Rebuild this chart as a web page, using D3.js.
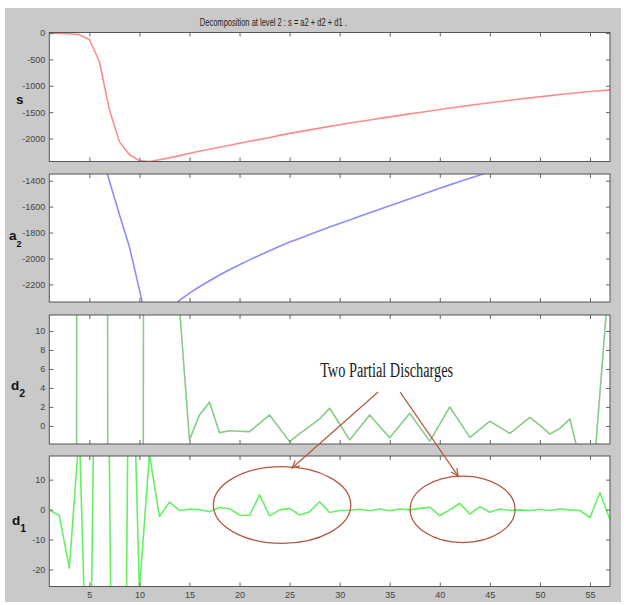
<!DOCTYPE html>
<html><head><meta charset="utf-8">
<script src="https://cdn.jsdelivr.net/npm/d3@7"></script>
<style>body{margin:0;background:#fff}svg{display:block}</style>
</head><body><svg id="c" width="628" height="605"></svg>
<script>
const title = "Decomposition at level 2 : s = a2 + d2 + d1 .";
const xValues = [1,2,3,4,5,6,7,8,9,10,11,12,13,14,15,16,17,18,19,20,21,22,23,24,25,26,27,28,29,30,31,32,33,34,35,36,37,38,39,40,41,42,43,44,45,46,47,48,49,50,51,52,53,54,55,56,57];
const sValues = [0,-6,-14,-30,-120,-540,-1450,-2060,-2310,-2420,-2437,-2405,-2368,-2325,-2281,-2243,-2205,-2167,-2129,-2091,-2054,-2017,-1980,-1941,-1903,-1870,-1837,-1803,-1770,-1738,-1707,-1677,-1648,-1619,-1590,-1562,-1534,-1506,-1478,-1450,-1423,-1397,-1372,-1347,-1322,-1298,-1275,-1252,-1230,-1208,-1187,-1166,-1146,-1127,-1109,-1093,-1078];
const a2Values = [-20,-60,-200,-480,-820,-1150,-1400,-1660,-1910,-2240,-2600,-2520,-2400,-2323,-2268,-2218,-2172,-2128,-2087,-2048,-2011,-1975,-1940,-1906,-1873,-1845,-1815,-1786,-1758,-1730,-1703,-1675,-1648,-1620,-1593,-1566,-1539,-1512,-1485,-1458,-1432,-1406,-1380,-1355,-1330,-1306,-1283,-1260,-1238,-1216,-1195,-1174,-1154,-1135,-1117,-1100,-1084];
const d2Values = [-40,-150,-800,300,900,1000,-200,-800,-600,-350,550,700,300,12.5,-1.47,1.16,2.5,-0.7,-0.5,-0.55,-0.6,0.28,1.16,-0.25,-1.65,-0.8,-0.05,0.75,1.86,0.2,-1.47,-0.15,1.16,-0.05,-1.23,0.05,1.33,-0.15,-1.6,0.2,2.0,0.4,-1.2,-0.35,0.5,-0.15,-0.77,0.05,0.9,0.05,-0.85,-0.25,0.74,-3.66,-10.05,3.53,17.1];
const d1Values = [-0.1,-2,-19.5,26,-88,180,16,-330,95,-27,18.5,-2.3,2.5,-0.3,0.1,0,-0.7,0.7,0.3,-1.8,-2.0,4.9,-2.1,-0.1,0.4,-1.8,-0.7,2.6,-1.0,-0.3,-0.2,0.1,-0.4,0.2,-0.4,0.2,-0.1,0.4,0.8,-2.0,-0.1,2.1,-1.5,1.0,-0.9,0.2,-0.3,-0.1,-0.3,0.1,-0.3,0.2,-0.1,-0.3,-2.7,5.7,-3.4];
const xDomain = [1,57];
const xTicks = [5,10,15,20,25,30,35,40,45,50,55];
const sTicks = [-2000,-1500,-1000,-500,0];
const a2Ticks = [-2200,-2000,-1800,-1600,-1400];
const d2Ticks = [0,2,4,6,8,10];
const d1Ticks = [-20,-10,0,10];
const sDomain = [-2437,11];
const a2Domain = [-2336,-1348];
const d2Domain = [-1.9,11.68];
const d1Domain = [-25.7,17.9];
const panelNames = ["s","a","d","d"];
const panelSubs = ["","2","2","1"];
const annotationText = "Two Partial Discharges";
// annotation positions in data units: [t, value]
const annTextPos = [28.05, 5.15];
const ellipses = [{t:24.25, v:1.53, rt:6.86, rv:12.8},{t:42.28, v:0.09, rt:5.24, rv:11.1}];
const arrows = [{from:[33.84,3.57], to:[25.25,13.9]},{from:[36.04,3.57], to:[41.83,11.2]}];

const svg = d3.select("#c");
svg.append("rect").attr("x",5).attr("y",8).attr("width",616).attr("height",594).attr("fill","#c9c9c9");

const X0 = 49.3, X1 = 610;
const x = d3.scaleLinear().domain(xDomain).range([X0, X1]);

const panels = [
  {values:sValues, domain:sDomain, ticks:sTicks, top:32.5, bottom:161.5, color:"#ff8c8c", lx:16, ly:103.5, sub:10},
  {values:a2Values, domain:a2Domain, ticks:a2Ticks, top:174, bottom:302, color:"#8c8cff", lx:9, ly:240, sub:9},
  {values:d2Values, domain:d2Domain, ticks:d2Ticks, top:315, bottom:444, color:"#86cc86", lx:11, ly:390, sub:10.5},
  {values:d1Values, domain:d1Domain, ticks:d1Ticks, top:456, bottom:586.5, color:"#66f066", lx:12, ly:525, sub:10.5}
];

svg.append("text").attr("x",273.3).attr("y",25.5).attr("text-anchor","middle")
  .attr("font-family","Liberation Sans, Arial, sans-serif").attr("font-size",10)
  .attr("textLength",147).attr("lengthAdjust","spacingAndGlyphs").attr("fill","#222").text(title);

const fmt = d => String(d);
const yScales = [];
panels.forEach((p,i)=>{
  const y = d3.scaleLinear().domain(p.domain).range([p.bottom, p.top]);
  yScales.push(y);
  const g = svg.append("g");
  g.append("rect").attr("x",X0).attr("y",p.top).attr("width",X1-X0).attr("height",p.bottom-p.top).attr("fill","#fff");
  const cid = "clip"+i;
  svg.append("clipPath").attr("id",cid).append("rect").attr("x",X0).attr("y",p.top).attr("width",X1-X0).attr("height",p.bottom-p.top);
  const line = d3.line().x((d,j)=>x(xValues[j])).y(d=>y(d));
  g.append("path").datum(p.values).attr("clip-path","url(#"+cid+")")
    .attr("d",line).attr("fill","none").attr("stroke",p.color).attr("stroke-width",1.6).attr("stroke-linejoin","round");

  const styleAxis = sel => {
    sel.select(".domain").remove();
    sel.selectAll(".tick line").attr("stroke","#666");
    sel.selectAll(".tick text").attr("fill","#444").attr("font-family","Liberation Sans, Arial, sans-serif").attr("font-size",9);
  };
  g.append("g").attr("transform",`translate(${X0},0)`).call(d3.axisLeft(y).tickValues(p.ticks).tickSize(-4).tickPadding(4).tickFormat(fmt)).call(styleAxis);
  g.append("g").attr("transform",`translate(${X1},0)`).call(d3.axisRight(y).tickValues(p.ticks).tickSize(-4).tickFormat("")).call(styleAxis);
  g.append("g").attr("transform",`translate(0,${p.top})`).call(d3.axisTop(x).tickValues(xTicks).tickSize(-4).tickFormat("")).call(styleAxis);
  const bx = d3.axisBottom(x).tickValues(xTicks).tickSize(-4).tickPadding(5).tickFormat(fmt);
  if (i < 3) bx.tickFormat("");
  g.append("g").attr("transform",`translate(0,${p.bottom})`).call(bx).call(styleAxis);
  g.append("rect").attr("x",X0).attr("y",p.top).attr("width",X1-X0).attr("height",p.bottom-p.top)
    .attr("fill","none").attr("stroke","#555").attr("stroke-width",1);

  const lab = svg.append("text").attr("x", p.lx).attr("y", p.ly)
    .attr("font-family","Liberation Sans, Arial, sans-serif").attr("font-weight","bold").attr("font-size",13.5).attr("fill","#111")
    .text(panelNames[i]);
  if (panelSubs[i]) lab.append("tspan").attr("dy",7).attr("font-size",p.sub).text(panelSubs[i]);
});

// annotation
const ann = "#b5583f";
const yd2 = yScales[2], yd1 = yScales[3];
svg.append("text").attr("x",x(annTextPos[0])).attr("y",yd2(annTextPos[1]))
  .attr("font-family","Liberation Serif, Times New Roman, serif").attr("font-size",20).attr("fill","#1a1a1a")
  .attr("textLength",133).attr("lengthAdjust","spacingAndGlyphs").text(annotationText);
ellipses.forEach(e=>{
  svg.append("ellipse").attr("cx",x(e.t)).attr("cy",yd1(e.v))
    .attr("rx",x(e.t+e.rt)-x(e.t)).attr("ry",yd1(e.v-e.rv)-yd1(e.v))
    .attr("fill","none").attr("stroke",ann).attr("stroke-width",1.3);
});
arrows.forEach(a=>{
  const x1=x(a.from[0]), y1=yd2(a.from[1]), x2=x(a.to[0]), y2=yd1(a.to[1]);
  svg.append("line").attr("x1",x1).attr("y1",y1).attr("x2",x2).attr("y2",y2).attr("stroke",ann).attr("stroke-width",1.2);
  const ang = Math.atan2(y2-y1,x2-x1), L=8, sp=0.45;
  const pts = [[x2-L*Math.cos(ang-sp), y2-L*Math.sin(ang-sp)],[x2,y2],[x2-L*Math.cos(ang+sp), y2-L*Math.sin(ang+sp)]];
  svg.append("path").attr("d",d3.line()(pts)).attr("fill","none").attr("stroke",ann).attr("stroke-width",1.2);
});
</script></body></html>
